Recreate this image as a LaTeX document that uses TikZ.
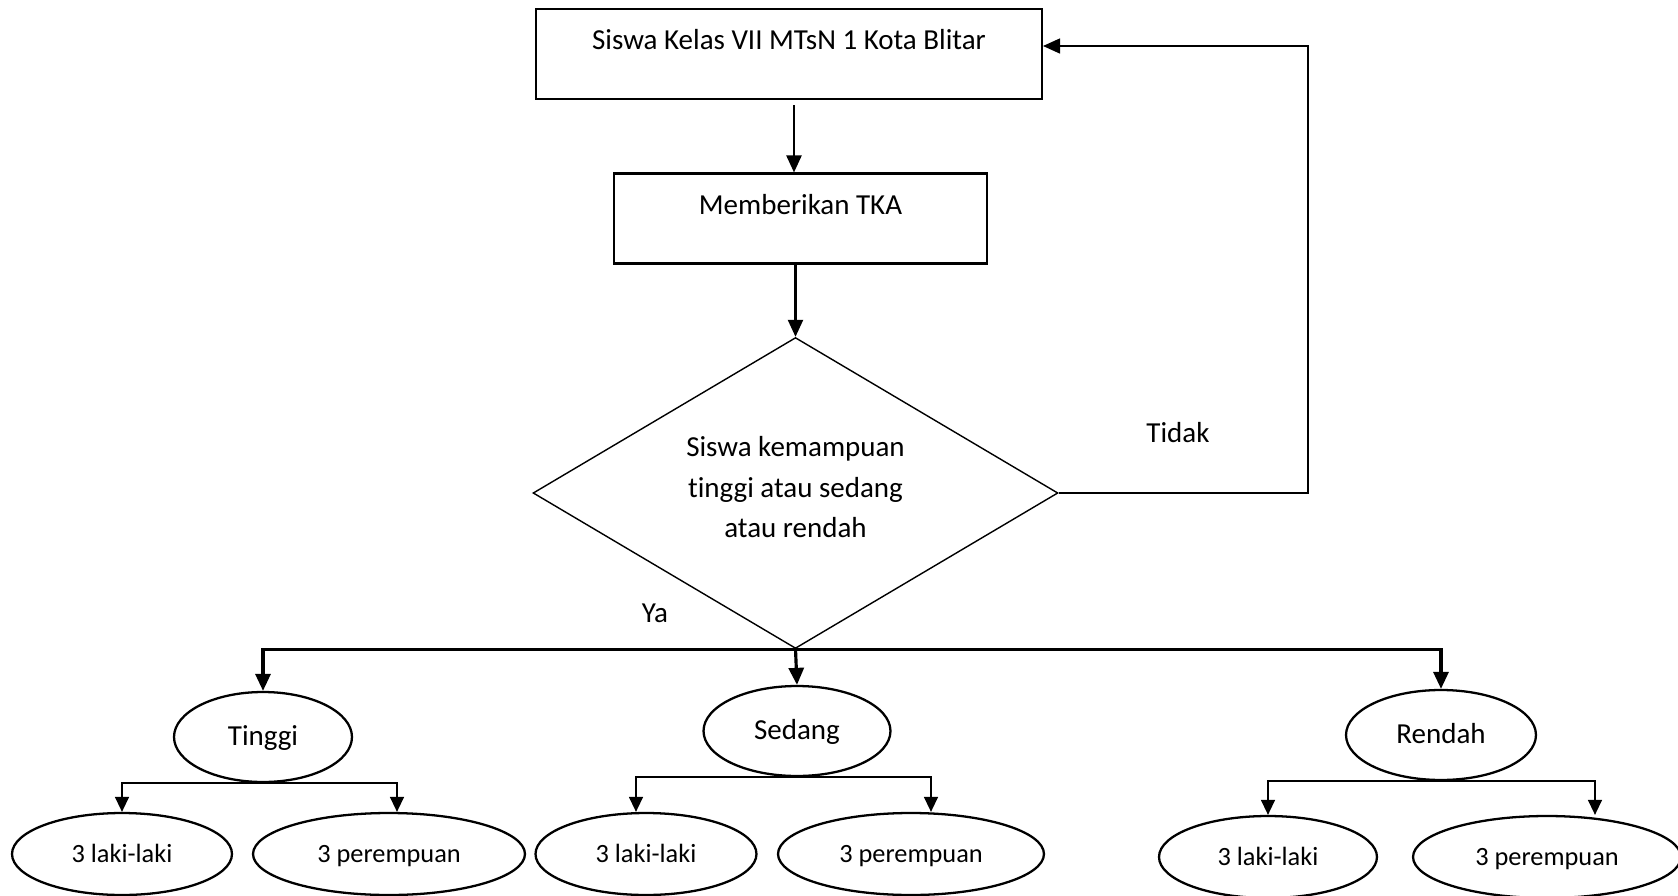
\documentclass[tikz,border=0pt]{standalone}
\usepackage{fontspec}
\setmainfont{Carlito}[Ligatures=NoCommon, Contextuals=NoAlternate]
\usepackage{tikz}
\usetikzlibrary{shapes.geometric}
\usetikzlibrary{arrows.meta}
\tikzset{>={Triangle[width=0.3cm,length=0.34cm]}}
\tikzset{
    kotak/.style={draw, line width=1.2pt, rectangle, minimum height=1.8cm,
        text height=0.4cm, text depth=0.57cm, font=\fontsize{16.5}{20}\selectfont},
    elips/.style={draw, line width=1.3pt, ellipse, inner sep=0pt,
        minimum height=1.8cm, text height=0.45cm, text depth=0.1cm,
        font=\fontsize{16.5}{20}\selectfont},
    daun/.style={draw, line width=1.3pt, ellipse, inner sep=0pt,
        minimum height=1.64cm, text height=0.42cm, text depth=0.1cm,
        font=\fontsize{15}{18}\selectfont},
    panah/.style={->, line width=1.3pt},
    cabang/.style={->, line width=1.8pt},
    anak/.style={-{Triangle[width=0.28cm,length=0.3cm]}, line width=0.8pt},
}

\begin{document}
\begin{tikzpicture}[x=0.02cm, y=-0.02cm]
        \useasboundingbox (0,0) rectangle (1678,896);

        % alur utama
        \node[kotak, minimum width=10.12cm] (siswa) at (789,54) {Siswa Kelas VII MTsN 1 Kota Blitar};
        \node[kotak, minimum width=7.46cm] (tka) at (800.5,218.5) {Memberikan TKA};
        \node[
            draw,
            diamond,
            aspect=1.7,
            line width=0.8pt,
            inner sep=0pt,
            minimum width=10.5cm,
            minimum height=6.22cm,
            align=center,
            text depth=0.24cm,
            font=\fontsize{16.5}{23}\selectfont,
        ] (cek) at (795.5,493) {Siswa kemampuan\\tinggi atau sedang\\atau rendah};

        \node[font=\fontsize{16.5}{20}\selectfont] (tidak) at (1178,433) {Tidak};
        \node[font=\fontsize{16.5}{20}\selectfont] (ya) at (655,613) {Ya};

        \draw[panah] ([xshift=0.1cm, yshift=-0.1cm]siswa.south) -- ([xshift=0.1cm]siswa.south |- tka.north);
        \draw[panah] (tka.south -| cek.north) -- (cek.north);

        % kembali jika tidak
        \coordinate (pojok) at (1308,46);
        \draw[->, line width=0.8pt] (cek.east) -| (pojok) -- (siswa.east |- pojok);

        % kelompok kemampuan
        \node[elips, minimum width=3.56cm] (tinggi) at (263,737) {Tinggi};
        \node[elips, minimum width=3.74cm] (sedang) at (797,731) {Sedang};
        \node[elips, minimum width=3.8cm] (rendah) at (1441,735) {Rendah};

        \draw[cabang] (cek.south) -| (tinggi.north);
        \draw[cabang] (cek.south) -- (sedang.north);
        \draw[cabang] (cek.south) -| (rendah.north);

        % laki-laki dan perempuan
        \node[daun, minimum width=4.4cm] (tinggiL) at (122,854) {3 laki-laki};
        \node[daun, minimum width=5.44cm] (tinggiP) at (389,854) {3 perempuan};
        \node[daun, minimum width=4.42cm] (sedangL) at (646,854) {3 laki-laki};
        \node[daun, minimum width=5.32cm] (sedangP) at (911,854) {3 perempuan};
        \node[daun, minimum width=4.36cm] (rendahL) at (1268,857) {3 laki-laki};
        \node[daun, minimum width=5.36cm] (rendahP) at (1547,857) {3 perempuan};

        \draw[anak] (tinggi.south) -| ([xshift=0.16cm]tinggiP.north);
        \draw[anak] (tinggi.south) -| (tinggiL.north);
        \draw[anak] (sedang.south) -| ([xshift=-0.2cm]sedangL.north);
        \draw[anak] (sedang.south) -| ([xshift=0.4cm]sedangP.north);
        \draw[anak] (rendah.south) -| (rendahL.north);
        \draw[anak] (rendah.south) -| ([xshift=0.96cm]rendahP.north);
    \end{tikzpicture}
\end{document}
